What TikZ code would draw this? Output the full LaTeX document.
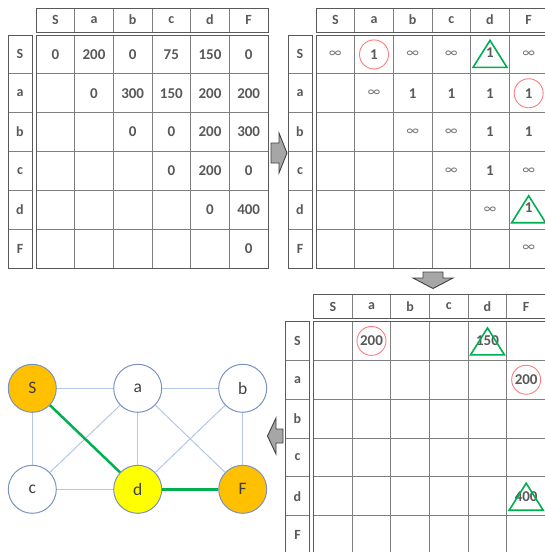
\documentclass[tikz,border=0pt]{standalone}
\usepackage{fontspec}
\setmainfont{Carlito}
\definecolor{txt}{HTML}{595959}
\definecolor{gtxt}{HTML}{404040}
\definecolor{gridc}{HTML}{7F7F7F}
\definecolor{outc}{HTML}{595959}
\definecolor{redm}{HTML}{FF7C80}
\definecolor{grnm}{HTML}{00B050}
\definecolor{edgec}{HTML}{B4C7E7}
\definecolor{nodeb}{HTML}{7A92C2}
\definecolor{orangef}{HTML}{FFC000}
\definecolor{yellowf}{HTML}{FFFF00}
\definecolor{arrf}{HTML}{A6A6A6}
\definecolor{arrb}{HTML}{404040}
\newcommand\infs{∞}
\tikzset{
  cellline/.style={draw=gridc,line width=0.8pt},
  outerline/.style={draw=outc,line width=1pt},
  hdr/.style={font=\fontsize{14}{16}\selectfont\bfseries,text=txt,inner sep=0pt},
  val/.style={font=\fontsize{15}{17}\selectfont\bfseries,text=txt,inner sep=0pt},
  infv/.style={font=\fontsize{15}{17}\selectfont,text=txt!80,inner sep=0pt},
  circmark/.style={circle,draw=redm,line width=0.9pt,minimum size=29pt,inner sep=0pt},
  trimark/.pic={\draw[draw=grnm,line width=1.6pt,line join=miter] (-17,13) -- (0,-14) -- (17,13) -- cycle;},
  gnode/.style={circle,draw=nodeb,line width=1pt,minimum size=48pt,inner sep=0pt,fill=white,
    font=\fontsize{17.5}{19}\selectfont,text=gtxt},
  gedge/.style={draw=edgec,line width=1pt},
  pedge/.style={draw=grnm,line width=2.5pt},
  blockarrow/.style={fill=arrf,draw=arrb,line width=0.9pt,line join=miter},
}
\newcommand\mytable[3]{%
\begin{scope}[shift={(#2,#3)}]
  \foreach \lab [count=\k from 0] in {S,a,b,c,d,F}{
    \pgfmathsetmacro\xa{36+\k*38.667}
    \pgfmathsetmacro\xb{36+(\k+1)*38.667}
    \pgfmathsetmacro\ya{35+\k*38.833}
    \pgfmathsetmacro\yb{35+(\k+1)*38.833}
    \draw[cellline] (\xa,8) rectangle (\xb,32);
    \node[hdr] (#1-h-\k) at ({(\xa+\xb)/2},20) {\lab};
    \draw[cellline] (8,\ya) rectangle (32,\yb);
    \node[hdr] (#1-v-\k) at (20,{(\ya+\yb)/2}) {\lab};
  }
  \draw[outerline] (36,8) rectangle (268,32);
  \draw[outerline] (8,35) rectangle (32,268);
  \foreach \k in {1,...,5}{
    \draw[cellline] ({36+\k*38.667},35) -- ({36+\k*38.667},268);
    \draw[cellline] (36,{35+\k*38.833}) -- (268,{35+\k*38.833});
  }
  \draw[outerline] (36,35) rectangle (268,268);
  \foreach \r in {0,...,5}{
    \foreach \c in {0,...,5}{
      \coordinate (#1-c-\r-\c) at ({36+\c*38.667+19.333},{35+\r*38.833+19.417});
    }
  }
\end{scope}}
\begin{document}
\begin{tikzpicture}[x=1pt,y=-1pt]
\useasboundingbox (0,0) rectangle (545,552);
\clip (0,0) rectangle (545,552);

% ---------- table 1 ----------
\mytable{t1}{0}{0}
\foreach \r/\c/\t in {0/0/0,0/1/200,0/2/0,0/3/75,0/4/150,0/5/0,
  1/1/0,1/2/300,1/3/150,1/4/200,1/5/200,
  2/2/0,2/3/0,2/4/200,2/5/300,
  3/3/0,3/4/200,3/5/0,
  4/4/0,4/5/400,
  5/5/0}{
  \node[val] (t1-n-\r-\c) at (t1-c-\r-\c) {\t};
}

% ---------- table 2 ----------
\mytable{t2}{280}{0}
\foreach \r/\c in {0/0,0/2,0/3,0/5,1/1,2/2,2/3,3/3,3/5,4/4,5/5}{
  \node[infv] (t2-n-\r-\c) at (t2-c-\r-\c) {\infs};
}
\foreach \r/\c in {1/2,1/3,1/4,2/4,2/5,3/4}{
  \node[val] (t2-n-\r-\c) at (t2-c-\r-\c) {1};
}
\node[val,circmark] (t2-n-0-1) at (t2-c-0-1) {1};
\node[val,circmark] (t2-n-1-5) at (t2-c-1-5) {1};
\node[val] (t2-n-0-4) at ([yshift=2pt]t2-c-0-4) {1};
\pic at (t2-c-0-4) {trimark};
\node[val] (t2-n-4-5) at ([yshift=2pt]t2-c-4-5) {1};
\pic at (t2-c-4-5) {trimark};

% ---------- table 3 ----------
\mytable{t3}{277.5}{286.5}
\node[val,circmark] (t3-n-0-1) at (t3-c-0-1) {200};
\node[val,circmark] (t3-n-1-5) at (t3-c-1-5) {200};
\node[val] (t3-n-0-4) at (t3-c-0-4) {150};
\pic at ([yshift=-1pt]t3-c-0-4) {trimark};
\node[val] (t3-n-4-5) at (t3-c-4-5) {400};
\pic at ([yshift=-1pt]t3-c-4-5) {trimark};

% ---------- block arrows ----------
\draw[blockarrow] (271,143) -- (279,143) -- (279,133) -- (287,153) -- (279,173) -- (279,163) -- (271,163) -- cycle;
\draw[blockarrow] (423,272) -- (443,272) -- (443,278) -- (453,278) -- (433,288.5) -- (413,278) -- (423,278) -- cycle;
\draw[blockarrow] (283,429) -- (276,429) -- (276,418) -- (267.5,436) -- (276,454) -- (276,443) -- (283,443) -- cycle;

% ---------- graph ----------
\node[gnode,fill=orangef] (S) at (32.3,388.3) {S};
\node[gnode] (a) at (137.7,388.3) {a};
\node[gnode] (b) at (242.7,388.3) {b};
\node[gnode] (c) at (32.3,489.3) {c};
\node[gnode,fill=yellowf] (d) at (137.7,489.3) {d};
\node[gnode,fill=orangef] (F) at (242.7,489.3) {F};
\draw[gedge] (S) -- (a);
\draw[gedge] (a) -- (b);
\draw[gedge] (S) -- (c);
\draw[gedge] (c) -- (d);
\draw[gedge] (a) -- (d);
\draw[gedge] (b) -- (F);
\draw[gedge] (a) -- (c);
\draw[gedge] (a) -- (F);
\draw[gedge] (b) -- (d);
\draw[pedge] (S) -- (d);
\draw[pedge] (d) -- (F);
\end{tikzpicture}
\end{document}
